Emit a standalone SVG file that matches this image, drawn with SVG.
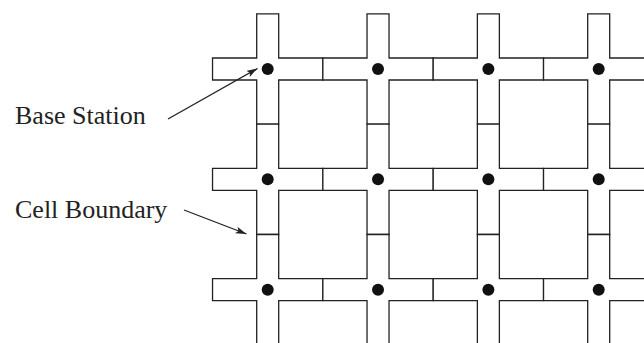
<svg xmlns="http://www.w3.org/2000/svg" xmlns:xlink="http://www.w3.org/1999/xlink" width="644" height="343" viewBox="0 0 644 343">
  <style>
    .cell { fill: #ffffff; stroke: #222; stroke-width: 1.3; stroke-linejoin: miter; }
    .bs { fill: #111; }
    .lbl { font-family: "Liberation Serif", "Times New Roman", serif; font-size: 26px; fill: #222; }
    .conn { stroke: #222; stroke-width: 1.3; fill: none; }
  </style>
  <defs>
    <path id="plus" d="M-11,-55.17 H11 V-11 H55.17 V11 H11 V55.17 H-11 V11 H-55.17 V-11 H-11 Z"/>
    <marker id="arr" markerUnits="userSpaceOnUse" markerWidth="12" markerHeight="8" refX="11" refY="3.5" orient="auto">
      <path d="M0,0 L11,3.5 L0,7 L2.5,3.5 Z" fill="#222"/>
    </marker>
  </defs>
  <rect width="644" height="343" fill="#ffffff"/>

  <g id="cell-r1c1" transform="translate(267.7,69)"><use href="#plus" class="cell"/><circle class="bs" r="6"/></g>
  <g id="cell-r1c2" transform="translate(378.03,69)"><use href="#plus" class="cell"/><circle class="bs" r="6"/></g>
  <g id="cell-r1c3" transform="translate(488.37,69)"><use href="#plus" class="cell"/><circle class="bs" r="6"/></g>
  <g id="cell-r1c4" transform="translate(598.7,69)"><use href="#plus" class="cell"/><circle class="bs" r="6"/></g>

  <g id="cell-r2c1" transform="translate(267.7,179.33)"><use href="#plus" class="cell"/><circle class="bs" r="6"/></g>
  <g id="cell-r2c2" transform="translate(378.03,179.33)"><use href="#plus" class="cell"/><circle class="bs" r="6"/></g>
  <g id="cell-r2c3" transform="translate(488.37,179.33)"><use href="#plus" class="cell"/><circle class="bs" r="6"/></g>
  <g id="cell-r2c4" transform="translate(598.7,179.33)"><use href="#plus" class="cell"/><circle class="bs" r="6"/></g>

  <g id="cell-r3c1" transform="translate(267.7,289.67)"><use href="#plus" class="cell"/><circle class="bs" r="6"/></g>
  <g id="cell-r3c2" transform="translate(378.03,289.67)"><use href="#plus" class="cell"/><circle class="bs" r="6"/></g>
  <g id="cell-r3c3" transform="translate(488.37,289.67)"><use href="#plus" class="cell"/><circle class="bs" r="6"/></g>
  <g id="cell-r3c4" transform="translate(598.7,289.67)"><use href="#plus" class="cell"/><circle class="bs" r="6"/></g>

  <g id="label-base-station"><text class="lbl" x="15" y="124">Base Station</text></g>
  <g id="label-cell-boundary"><text class="lbl" x="15" y="217.7">Cell Boundary</text></g>

  <g id="connectors">
    <line class="conn" x1="168" y1="119" x2="257.5" y2="68.5" marker-end="url(#arr)"/>
    <line class="conn" x1="184" y1="210" x2="246.5" y2="234" marker-end="url(#arr)"/>
  </g>
</svg>
